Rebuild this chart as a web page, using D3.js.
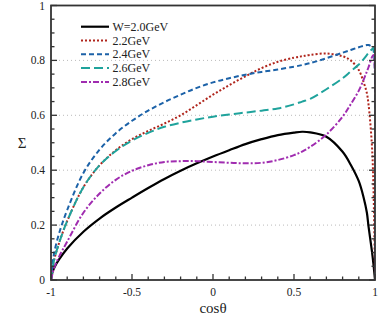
<!DOCTYPE html>
<html><head><meta charset="utf-8">
<script src="https://cdn.jsdelivr.net/npm/d3@7"></script>
<style>body{margin:0;background:#fff}svg{display:block}text{font-family:"Liberation Serif","Times New Roman",serif;fill:#222}</style>
</head><body>
<svg id="c" width="382" height="331"></svg>
<script>
const cosTheta = [-1,-0.99,-0.98,-0.95,-0.9,-0.8,-0.7,-0.6,-0.5,-0.4,-0.3,-0.2,-0.1,0,0.1,0.2,0.3,0.4,0.5,0.55,0.6,0.7,0.8,0.85,0.9,0.93,0.95,0.96,0.98,0.99,1];
const sigmaW20 = [0,0.03,0.045,0.075,0.115,0.176,0.224,0.264,0.30,0.335,0.368,0.398,0.425,0.45,0.473,0.495,0.513,0.528,0.537,0.54,0.538,0.522,0.467,0.42,0.36,0.30,0.245,0.195,0.11,0.06,0];
const sigmaW22 = [0,0.045,0.075,0.135,0.215,0.338,0.418,0.473,0.513,0.543,0.57,0.60,0.637,0.675,0.71,0.742,0.772,0.795,0.81,0.815,0.82,0.825,0.815,0.80,0.765,0.72,0.68,0.64,0.50,0.35,0];
const sigmaW24 = [0,0.06,0.1,0.17,0.255,0.39,0.475,0.535,0.58,0.617,0.648,0.675,0.70,0.72,0.735,0.748,0.758,0.767,0.777,0.783,0.79,0.808,0.828,0.838,0.848,0.853,0.856,0.856,0.85,0.84,0];
const sigmaW26 = [0,0.045,0.075,0.135,0.215,0.338,0.418,0.47,0.508,0.536,0.558,0.573,0.585,0.595,0.603,0.61,0.617,0.625,0.64,0.65,0.66,0.695,0.735,0.76,0.785,0.805,0.82,0.828,0.84,0.845,0];
const sigmaW28 = [0,0.025,0.045,0.085,0.14,0.245,0.315,0.365,0.398,0.418,0.43,0.433,0.433,0.43,0.427,0.425,0.427,0.437,0.455,0.468,0.485,0.53,0.595,0.64,0.69,0.73,0.76,0.775,0.81,0.82,0];
const seriesNames = ["W=2.0GeV","2.2GeV","2.4GeV","2.6GeV","2.8GeV"];
const xTicks = [-1,-0.5,0,0.5,1];
const xTickLabels = ["-1","-0.5","0","0.5","1"];
const yTicks = [0,0.2,0.4,0.6,0.8,1];
const yTickLabels = ["0","0.2","0.4","0.6","0.8","1"];
const gridValues = [0.2,0.4,0.6,0.8];

const seriesData = [sigmaW20,sigmaW22,sigmaW24,sigmaW26,sigmaW28];
const colors = ["#000000","#b0251c","#1c62a8","#1fa39c","#a02cb0"];
const dashes = [null,"2,2","5,3","9,4","6,2,2,2"];

const svg = d3.select("#c");
const m = {l:51,r:375,t:5.5,b:280};
const x = d3.scaleLinear().domain([-1,1]).range([m.l,m.r]);
const y = d3.scaleLinear().domain([0,1]).range([m.b,m.t]);

// grid
svg.append("g").selectAll("line").data(gridValues).join("line")
  .attr("x1",m.l).attr("x2",m.r).attr("y1",d=>y(d)).attr("y2",d=>y(d))
  .attr("stroke","#bbb").attr("stroke-width",1).attr("stroke-dasharray","1,3");

// curves
const line = d3.line().x((d,i)=>x(cosTheta[i])).y(d=>y(d)).curve(d3.curveCatmullRom.alpha(0.5));
const clip = svg.append("clipPath").attr("id","cp").append("rect")
  .attr("x",m.l).attr("y",m.t-3).attr("width",m.r-m.l).attr("height",m.b-m.t+3);
const cg = svg.append("g").attr("clip-path","url(#cp)");
seriesData.forEach((s,k)=>{
  cg.append("path").datum(s).attr("d",line).attr("fill","none")
    .attr("stroke",colors[k]).attr("stroke-width",k===0?2.2:2)
    .attr("stroke-dasharray",dashes[k]);
});

// axes ticks
const tk = svg.append("g").attr("stroke","#333").attr("stroke-width",1.3);
const xMinor = d3.range(-10,11).map(i=>i/10);
const yMinor = d3.range(0,21).map(i=>i/20);
xMinor.forEach(v=>{
  const major = Math.abs(v*2-Math.round(v*2))<1e-6;
  tk.append("line").attr("x1",x(v)).attr("x2",x(v)).attr("y1",m.b).attr("y2",m.b-(major?6:3.5));
});
yMinor.forEach(v=>{
  const major = Math.abs(v*5-Math.round(v*5))<1e-6;
  const L = major?6:3.5;
  tk.append("line").attr("x1",m.l).attr("x2",m.l+L).attr("y1",y(v)).attr("y2",y(v));
  tk.append("line").attr("x1",m.r).attr("x2",m.r-L).attr("y1",y(v)).attr("y2",y(v));
});
// frame
svg.append("rect").attr("x",m.l).attr("y",m.t).attr("width",m.r-m.l).attr("height",m.b-m.t)
  .attr("fill","none").attr("stroke","#333").attr("stroke-width",1.8);

// tick labels
svg.append("g").selectAll("text").data(xTicks).join("text")
  .attr("x",d=>x(d)).attr("y",296).attr("text-anchor","middle").attr("font-size",11.5)
  .text((d,i)=>xTickLabels[i]);
svg.append("g").selectAll("text").data(yTicks).join("text")
  .attr("x",45).attr("y",d=>y(d)+4).attr("text-anchor","end").attr("font-size",11.5)
  .text((d,i)=>yTickLabels[i]);

// axis titles
svg.append("text").attr("x",213).attr("y",313).attr("text-anchor","middle").attr("font-size",15).text("cosθ");
svg.append("text").attr("x",22).attr("y",148).attr("text-anchor","middle").attr("font-size",15).text("Σ");

// legend
const lg = svg.append("g");
seriesNames.forEach((n,k)=>{
  const yy = 26.7 + k*13.8;
  lg.append("line").attr("x1",81).attr("x2",109).attr("y1",yy).attr("y2",yy)
    .attr("stroke",colors[k]).attr("stroke-width",k===0?2.2:2).attr("stroke-dasharray",dashes[k]);
  lg.append("text").attr("x",112.5).attr("y",yy+4).attr("font-size",12).text(n);
});
</script>
</body></html>
